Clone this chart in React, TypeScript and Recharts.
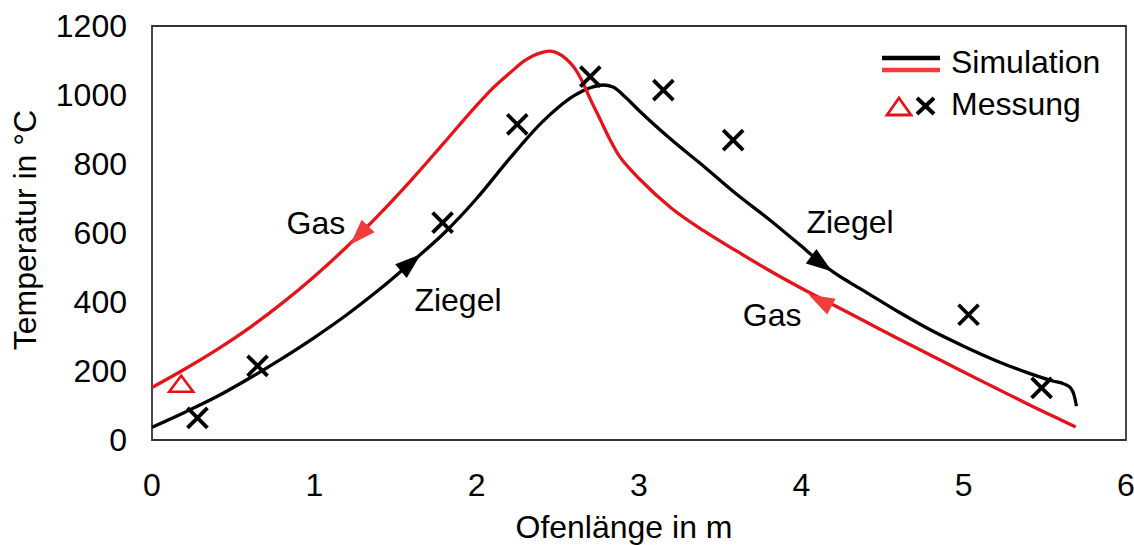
import React from 'react';
import {
  ComposedChart, Line, Scatter, XAxis, YAxis, ReferenceArea, ReferenceDot, Legend,
} from 'recharts';

const FONT = '"Liberation Sans", Arial, Helvetica, sans-serif';
const RED = '#e5141a';
const RED_LIGHT = '#f23c3c';

// Simulation Ziegel (black)
const ziegelX = [0, 0.2, 0.4, 0.6, 0.8, 1.0, 1.2, 1.4, 1.6, 1.8, 2.0, 2.2, 2.4, 2.5, 2.6, 2.7, 2.78, 2.84, 2.92, 3.0, 3.2, 3.4, 3.6, 3.8, 4.0, 4.1, 4.2, 4.3, 4.4, 4.6, 4.8, 5.0, 5.2, 5.4, 5.55, 5.62, 5.66, 5.68, 5.695];
const ziegelY = [37, 80, 126, 179, 236, 297, 363, 436, 516, 600, 700, 814, 920, 963, 998, 1021, 1029, 1023, 992, 955, 870, 793, 713, 640, 562, 522, 486, 456, 428, 371, 318, 272, 230, 194, 171, 162, 150, 130, 98];

// Simulation Gas (red)
const gasX = [0, 0.2, 0.4, 0.6, 0.8, 1.0, 1.2, 1.4, 1.6, 1.8, 2.0, 2.1, 2.2, 2.3, 2.4, 2.45, 2.5, 2.55, 2.6, 2.65, 2.7, 2.76, 2.82, 2.88, 2.94, 3.0, 3.2, 3.4, 3.6, 3.8, 4.0, 4.2, 4.4, 4.6, 4.8, 5.0, 5.2, 5.4, 5.6, 5.69];
const gasY = [152, 205, 262, 325, 396, 474, 560, 654, 755, 862, 970, 1020, 1062, 1101, 1123, 1127, 1121, 1105, 1080, 1040, 988, 930, 872, 822, 788, 758, 672, 606, 548, 492, 440, 391, 342, 293, 245, 197, 150, 103, 58, 38];

// Messung
const messZiegelX = [0.28, 0.65, 1.79, 2.25, 2.70, 3.15, 3.58, 5.03, 5.48];
const messZiegelY = [64, 215, 630, 915, 1053, 1014, 869, 363, 151];
const messGasX = [0.18];
const messGasY = [163];

// flow direction arrows
const arrowZiegelX = [1.59, 4.12];
const arrowZiegelY = [512, 512];
const arrowGasX = [1.28, 4.12];
const arrowGasY = [595, 403];
const arrowZiegelDir = [-40, 36];
const arrowGasDir = [134, 208];

const notes = ['Gas', 'Ziegel', 'Ziegel', 'Gas'];
const noteX = [1.01, 1.885, 4.30, 3.82];
const noteY = [630, 407, 633, 363];

const xTicks = [0, 1, 2, 3, 4, 5, 6];
const yTicks = [0, 200, 400, 600, 800, 1000, 1200];

const zip = (xs: number[], ys: number[]) => xs.map((x, i) => ({ x, y: ys[i] }));

const ziegel = zip(ziegelX, ziegelY);
const gas = zip(gasX, gasY);
const messZiegel = zip(messZiegelX, messZiegelY);
const messGas = zip(messGasX, messGasY);
const arrowsZiegel = arrowZiegelX.map((x, i) => ({ x, y: arrowZiegelY[i], dir: arrowZiegelDir[i] }));
const arrowsGas = arrowGasX.map((x, i) => ({ x, y: arrowGasY[i], dir: arrowGasDir[i] }));

function Cross(props: any) {
  const { cx, cy } = props;
  const s = 10;
  return (
    <g stroke="#000" strokeWidth={3.8}>
      <line x1={cx - s} y1={cy - s} x2={cx + s} y2={cy + s} />
      <line x1={cx - s} y1={cy + s} x2={cx + s} y2={cy - s} />
    </g>
  );
}

function Triangle(props: any) {
  const { cx, cy } = props;
  return (
    <polygon
      points={`${cx},${cy - 8} ${cx + 12},${cy + 8} ${cx - 12},${cy + 8}`}
      fill="#fff" stroke={RED} strokeWidth={2.6}
    />
  );
}

const arrowHead = (color: string) => (props: any) => {
  const { cx, cy, payload } = props;
  const dir = payload && payload.dir != null ? payload.dir : 0;
  return (
    <polygon
      points="14,0 -12,-9 -12,9"
      fill={color}
      transform={`translate(${cx},${cy}) rotate(${dir})`}
    />
  );
};

function LegendBox() {
  return (
    <svg width={260} height={90} style={{ overflow: 'visible' }}>
      <line x1={7} y1={18} x2={65} y2={18} stroke="#000" strokeWidth={4.5} />
      <line x1={7} y1={30} x2={65} y2={30} stroke={RED_LIGHT} strokeWidth={4.5} />
      <text x={76} y={33} fontSize={32} fontFamily={FONT} fill="#000">Simulation</text>
      <polygon points="24,58 36,75 12,75" fill="none" stroke={RED} strokeWidth={2.8} />
      <g stroke="#000" strokeWidth={4}>
        <line x1={42} y1={58} x2={59} y2={74} />
        <line x1={42} y1={74} x2={59} y2={58} />
      </g>
      <text x={76} y={75} fontSize={32} fontFamily={FONT} fill="#000">Messung</text>
    </svg>
  );
}

const tickStyle = { fontSize: 32, fill: '#000', fontFamily: FONT };

export default function App() {
  return (
    <div style={{ position: 'absolute', left: 0, top: 0, width: 1134, height: 545, background: '#fff' }}>
      <ComposedChart width={1134} height={545} margin={{ top: 26, right: 8, bottom: 0, left: 0 }}>
        <XAxis
          dataKey="x" type="number" domain={[0, 6]} ticks={xTicks} interval={0}
          axisLine={false} tickLine={false} tickSize={0} tickMargin={33} height={105}
          tick={tickStyle}
          label={{
            content: () => (
              <text x={624} y={538} textAnchor="middle" fontSize={32} fontFamily={FONT} fill="#000">
                Ofenlänge in m
              </text>
            ),
          }}
        />
        <YAxis
          dataKey="y" type="number" domain={[0, 1200]} ticks={yTicks} interval={0}
          axisLine={false} tickLine={false} tickSize={0} tickMargin={25} width={152}
          tick={tickStyle}
          label={{
            content: () => (
              <text x={36} y={230} transform="rotate(-90, 36, 230)" textAnchor="middle"
                fontSize={32} fontFamily={FONT} fill="#000">
                Temperatur in °C
              </text>
            ),
          }}
        />
        <ReferenceArea x1={0} x2={6} y1={0} y2={1200} fill="none" fillOpacity={0}
          stroke="#333" strokeWidth={1.8} ifOverflow="visible" />
        <Line data={ziegel} dataKey="y" type="monotone" stroke="#000" strokeWidth={3.3}
          dot={false} isAnimationActive={false} legendType="none" />
        <Line data={gas} dataKey="y" type="monotone" stroke={RED} strokeWidth={3.3}
          dot={false} isAnimationActive={false} legendType="none" />
        <Scatter data={arrowsZiegel} dataKey="y" shape={arrowHead('#000')}
          isAnimationActive={false} legendType="none" />
        <Scatter data={arrowsGas} dataKey="y" shape={arrowHead(RED_LIGHT)}
          isAnimationActive={false} legendType="none" />
        <Scatter data={messZiegel} dataKey="y" shape={<Cross />}
          isAnimationActive={false} legendType="none" />
        <Scatter data={messGas} dataKey="y" shape={<Triangle />}
          isAnimationActive={false} legendType="none" />
        {notes.map((t, i) => (
          <ReferenceDot key={i} x={noteX[i]} y={noteY[i]} r={0} fill="none" stroke="none"
            ifOverflow="visible"
            label={{ value: t, position: 'center', fontSize: 32, fill: '#000', fontFamily: FONT }} />
        ))}
        <Legend layout="horizontal" verticalAlign="middle" align="center"
          wrapperStyle={{ left: 875, top: 40, width: 260, height: 90 }}
          content={() => <LegendBox />} />
      </ComposedChart>
    </div>
  );
}
